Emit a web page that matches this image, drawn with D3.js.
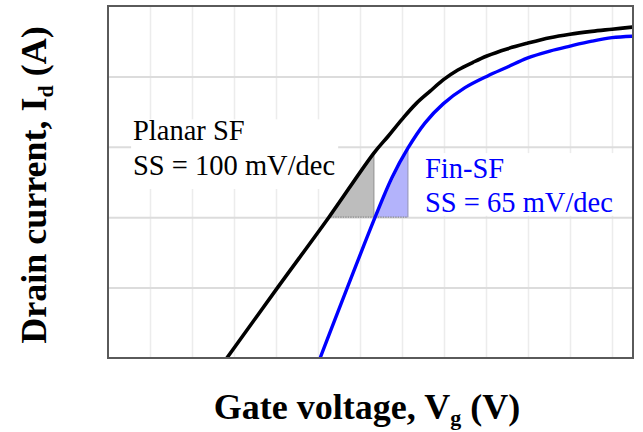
<!DOCTYPE html>
<html lang="en">
<head>
  <meta charset="UTF-8">
  <title>Drain current vs. gate voltage</title>
  <script src="https://d3js.org/d3.v7.min.js"></script>
  <style>
    body {
      margin: 0;
      background: #fff;
    }

    text {
      font-family: "Liberation Serif", "Times New Roman", serif;
    }

    .grid-x line {
      stroke: #ececec;
      stroke-width: 1.5;
    }

    .grid-y line {
      stroke: #dcdcdc;
      stroke-width: 2;
    }

    .grid-x path,
    .grid-y path {
      display: none;
    }
  </style>
</head>
<body>
  <div id="chart"></div>
  <script>
    // gate voltage (grid units) and log10 drain current (decades above the floor)
    const planarVg = [2.83, 4.05, 5.26, 6.33, 6.67, 7.00, 7.33, 7.67, 7.98, 8.33, 8.69,
      9.02, 9.50, 9.98, 10.52, 11.0, 11.52, 12.0, 12.48];
    const planarId = [0, 1.01, 2.0, 2.91, 3.15, 3.39, 3.61, 3.79, 3.95, 4.09, 4.20,
      4.29, 4.39, 4.47, 4.55, 4.60, 4.64, 4.67, 4.70];

    const finVg = [5.05, 6.36, 6.76, 7.14, 7.55, 7.98, 8.50, 9.05, 9.50, 9.98, 10.52,
      11.0, 11.52, 12.0, 12.48];
    const finId = [0, 2.0, 2.56, 2.98, 3.34, 3.61, 3.84, 4.01, 4.13, 4.26, 4.36,
      4.43, 4.50, 4.55, 4.57];

    // subthreshold swing triangles
    const planarTriVg = [5.29, 6.33, 6.33];
    const planarTriId = [2.0, 2.0, 2.91];
    const finTriVg = [6.36, 7.14, 7.14];
    const finTriId = [2.0, 2.0, 2.98];

    const xTicks = [1, 2, 3, 4, 5, 6, 7, 8, 9, 10, 11, 12];
    const yTicks = [1, 2, 3, 4];

    const margin = {top: 6, right: 10, bottom: 74, left: 108},
      width = 643 - margin.left - margin.right,
      height = 432 - margin.top - margin.bottom;

    const svg = d3.select("#chart")
      .append("svg")
      .attr("width", 643)
      .attr("height", 432);

    const g = svg.append("g")
      .attr("transform", "translate(" + margin.left + "," + margin.top + ")");

    const x = d3.scaleLinear().domain([0, 12.5]).range([0, width]);
    const y = d3.scaleLinear().domain([0, 5]).range([height, 0]);

    g.append("clipPath").attr("id", "plot-clip")
      .append("rect").attr("width", width).attr("height", height);

    // grid
    g.append("g")
      .attr("class", "grid-x")
      .attr("transform", "translate(0," + height + ")")
      .call(d3.axisBottom(x).tickValues(xTicks).tickSize(-height).tickFormat(""));

    g.append("g")
      .attr("class", "grid-y")
      .call(d3.axisLeft(y).tickValues(yTicks).tickSize(-width).tickFormat(""));

    // white boxes behind the labels
    g.append("rect")
      .attr("x", x(0.55)).attr("y", y(3.39))
      .attr("width", x(5.48) - x(0.55)).attr("height", y(2.4) - y(3.39))
      .attr("fill", "#fff");

    g.append("rect")
      .attr("x", x(7.35)).attr("y", y(2.91))
      .attr("width", x(12.45) - x(7.35)).attr("height", y(2.02) - y(2.91))
      .attr("fill", "#fff");

    // triangles
    const tri = (vx, vy) => vx.map((v, i) => [x(v), y(vy[i])]);

    g.append("polygon")
      .attr("points", tri(planarTriVg, planarTriId).join(" "))
      .attr("fill", "#bdbdbd");

    g.append("polygon")
      .attr("points", tri(finTriVg, finTriId).join(" "))
      .attr("fill", "#b3b3fb");

    g.append("line")
      .attr("x1", x(planarTriVg[0])).attr("x2", x(finTriVg[2]))
      .attr("y1", y(2)).attr("y2", y(2))
      .attr("stroke", "#8a8a8a").attr("stroke-width", 1.2)
      .attr("stroke-dasharray", "1.5,1");

    g.append("line")
      .attr("x1", x(planarTriVg[2])).attr("x2", x(planarTriVg[2]))
      .attr("y1", y(planarTriId[1])).attr("y2", y(planarTriId[2]))
      .attr("stroke", "#999").attr("stroke-width", 1.2);

    g.append("line")
      .attr("x1", x(finTriVg[2])).attr("x2", x(finTriVg[2]))
      .attr("y1", y(finTriId[1])).attr("y2", y(finTriId[2]))
      .attr("stroke", "#9a9ac0").attr("stroke-width", 1.2);

    // curves
    const line = d3.line()
      .x(d => x(d[0]))
      .y(d => y(d[1]))
      .curve(d3.curveCatmullRom.alpha(0.5));

    const curves = g.append("g").attr("clip-path", "url(#plot-clip)");

    curves.append("path")
      .attr("d", line(planarVg.map((v, i) => [v, planarId[i]])))
      .attr("fill", "none")
      .attr("stroke", "#000")
      .attr("stroke-width", 3.6);

    curves.append("path")
      .attr("d", line(finVg.map((v, i) => [v, finId[i]])))
      .attr("fill", "none")
      .attr("stroke", "#0000ff")
      .attr("stroke-width", 3.4);

    // frame
    g.append("rect")
      .attr("width", width).attr("height", height)
      .attr("fill", "none")
      .attr("stroke", "#5a5a5a")
      .attr("stroke-width", 2);

    // labels
    const planarLabel = g.append("text")
      .attr("font-size", 28.5)
      .attr("fill", "#000");
    planarLabel.append("tspan").attr("x", 25).attr("y", 134).text("Planar SF");
    planarLabel.append("tspan").attr("x", 25).attr("y", 169).text("SS = 100 mV/dec");

    const finLabel = g.append("text")
      .attr("font-size", 28.5)
      .attr("fill", "#0000ff");
    finLabel.append("tspan").attr("x", 317).attr("y", 172).text("Fin-SF");
    finLabel.append("tspan").attr("x", 317).attr("y", 206).text("SS = 65 mV/dec");

    // axis titles
    const xTitle = svg.append("text")
      .attr("x", 367)
      .attr("y", 419)
      .attr("text-anchor", "middle")
      .attr("font-size", 36)
      .attr("font-weight", "bold");
    xTitle.append("tspan").text("Gate voltage, V");
    xTitle.append("tspan").attr("font-size", 22).attr("dy", 6).text("g");
    xTitle.append("tspan").attr("dy", -6).text(" (V)");

    const yTitle = svg.append("text")
      .attr("transform", "translate(46,185) rotate(-90)")
      .attr("text-anchor", "middle")
      .attr("font-size", 36)
      .attr("font-weight", "bold");
    yTitle.append("tspan").text("Drain current, I");
    yTitle.append("tspan").attr("font-size", 22).attr("dy", 7).text("d");
    yTitle.append("tspan").attr("dy", -7).text(" (A)");
  </script>
</body>
</html>
